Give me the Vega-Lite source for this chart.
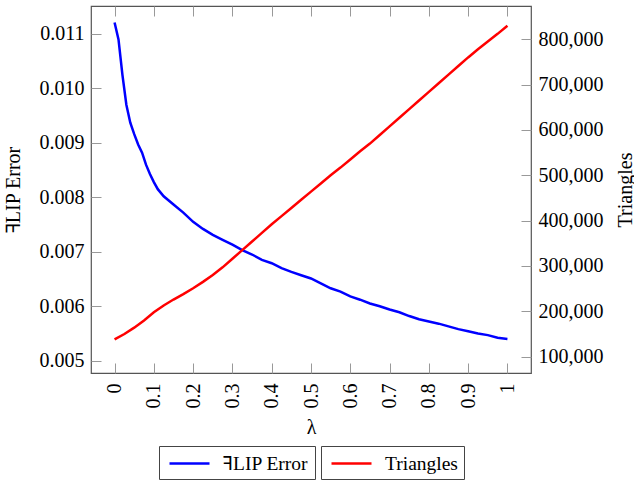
{
  "$schema": "https://vega.github.io/schema/vega-lite/v6.json",
  "width": 440,
  "height": 367,
  "autosize": {"type": "none"},
  "padding": {"left": 91, "top": 6, "right": 103, "bottom": 109},
  "background": "white",
  "config": {
    "font": "Liberation Serif",
    "view": {"stroke": "#555555", "strokeWidth": 1.2},
    "axis": {
      "domain": false,
      "grid": false,
      "tickColor": "#999999",
      "tickSize": -10,
      "tickWidth": 1,
      "labelFont": "Liberation Serif",
      "labelFontSize": 20,
      "labelColor": "black",
      "titleFont": "Liberation Serif",
      "titleFontSize": 20,
      "titleFontWeight": "normal",
      "titleColor": "black"
    },
    "legend": {
      "orient": "bottom",
      "direction": "horizontal",
      "symbolType": "M-2,0H2",
      "symbolSize": 400,
      "symbolOffset": 13,
      "symbolStrokeWidth": 2.5,
      "labelFont": "Liberation Serif",
      "labelFontSize": 19.5,
      "labelColor": "black",
      "labelLimit": 300,
      "labelOffset": 22,
      "strokeColor": "#444444",
      "padding": 6,
      "offset": 9,
      "layout": {"bottom": {"anchor": "middle", "margin": 6}}
    }
  },
  "datasets": {
    "flip": [
      {"lambda": 0, "flip": 0.01121},
      {"lambda": 0.01, "flip": 0.0109},
      {"lambda": 0.02, "flip": 0.01025},
      {"lambda": 0.03, "flip": 0.0097},
      {"lambda": 0.04, "flip": 0.00937},
      {"lambda": 0.05, "flip": 0.00916},
      {"lambda": 0.06, "flip": 0.00897},
      {"lambda": 0.07, "flip": 0.00882},
      {"lambda": 0.08, "flip": 0.0086},
      {"lambda": 0.09, "flip": 0.00843},
      {"lambda": 0.1, "flip": 0.00828},
      {"lambda": 0.11, "flip": 0.00815},
      {"lambda": 0.125, "flip": 0.00802},
      {"lambda": 0.15, "flip": 0.00787},
      {"lambda": 0.175, "flip": 0.00772},
      {"lambda": 0.2, "flip": 0.00755},
      {"lambda": 0.225, "flip": 0.00742},
      {"lambda": 0.25, "flip": 0.00731},
      {"lambda": 0.275, "flip": 0.00722},
      {"lambda": 0.3, "flip": 0.00713},
      {"lambda": 0.325, "flip": 0.00703},
      {"lambda": 0.35, "flip": 0.00695},
      {"lambda": 0.375, "flip": 0.00685},
      {"lambda": 0.4, "flip": 0.00679},
      {"lambda": 0.425, "flip": 0.0067},
      {"lambda": 0.45, "flip": 0.00663},
      {"lambda": 0.475, "flip": 0.00657},
      {"lambda": 0.5, "flip": 0.00651},
      {"lambda": 0.525, "flip": 0.00642},
      {"lambda": 0.55, "flip": 0.00633},
      {"lambda": 0.575, "flip": 0.00627},
      {"lambda": 0.6, "flip": 0.00618},
      {"lambda": 0.625, "flip": 0.00612},
      {"lambda": 0.65, "flip": 0.00605},
      {"lambda": 0.675, "flip": 0.006},
      {"lambda": 0.7, "flip": 0.00594},
      {"lambda": 0.725, "flip": 0.00589},
      {"lambda": 0.75, "flip": 0.00582},
      {"lambda": 0.775, "flip": 0.00576},
      {"lambda": 0.8, "flip": 0.00572},
      {"lambda": 0.825, "flip": 0.00568},
      {"lambda": 0.85, "flip": 0.00563},
      {"lambda": 0.875, "flip": 0.00558},
      {"lambda": 0.9, "flip": 0.00554},
      {"lambda": 0.925, "flip": 0.0055},
      {"lambda": 0.95, "flip": 0.00547},
      {"lambda": 0.975, "flip": 0.00542},
      {"lambda": 1, "flip": 0.0054}
    ],
    "tri": [
      {"lambda": 0, "tri": 138000},
      {"lambda": 0.025, "tri": 150000},
      {"lambda": 0.05, "tri": 164000},
      {"lambda": 0.075, "tri": 180000},
      {"lambda": 0.1, "tri": 198000},
      {"lambda": 0.125, "tri": 213000},
      {"lambda": 0.15, "tri": 226000},
      {"lambda": 0.175, "tri": 238000},
      {"lambda": 0.2, "tri": 251000},
      {"lambda": 0.225, "tri": 265000},
      {"lambda": 0.25, "tri": 280000},
      {"lambda": 0.275, "tri": 297000},
      {"lambda": 0.3, "tri": 316000},
      {"lambda": 0.325, "tri": 335000},
      {"lambda": 0.35, "tri": 354000},
      {"lambda": 0.375, "tri": 373000},
      {"lambda": 0.4, "tri": 392000},
      {"lambda": 0.425, "tri": 410000},
      {"lambda": 0.45, "tri": 428000},
      {"lambda": 0.475, "tri": 446000},
      {"lambda": 0.5, "tri": 464000},
      {"lambda": 0.525, "tri": 482000},
      {"lambda": 0.55, "tri": 500000},
      {"lambda": 0.575, "tri": 517000},
      {"lambda": 0.6, "tri": 535000},
      {"lambda": 0.625, "tri": 553000},
      {"lambda": 0.65, "tri": 570000},
      {"lambda": 0.675, "tri": 589000},
      {"lambda": 0.7, "tri": 608000},
      {"lambda": 0.725, "tri": 627000},
      {"lambda": 0.75, "tri": 646000},
      {"lambda": 0.775, "tri": 665000},
      {"lambda": 0.8, "tri": 684000},
      {"lambda": 0.825, "tri": 703000},
      {"lambda": 0.85, "tri": 722000},
      {"lambda": 0.875, "tri": 741000},
      {"lambda": 0.9, "tri": 760000},
      {"lambda": 0.925, "tri": 778000},
      {"lambda": 0.95, "tri": 795000},
      {"lambda": 0.975, "tri": 812000},
      {"lambda": 1, "tri": 830000}
    ]
  },
  "layer": [
    {
      "data": {"name": "flip"},
      "mark": {"type": "line", "strokeWidth": 2.5, "clip": true},
      "encoding": {
        "x": {
          "field": "lambda",
          "type": "quantitative",
          "scale": {"domain": [-0.06, 1.06], "nice": false, "zero": false},
          "axis": {
            "orient": "bottom",
            "title": "λ",
            "values": [0, 0.1, 0.2, 0.3, 0.4, 0.5, 0.6, 0.7, 0.8, 0.9, 1],
            "format": "~g",
            "labelAngle": -90,
            "labelAlign": "right",
            "labelBaseline": "middle",
            "labelPadding": 20,
            "titlePadding": 9
          }
        },
        "y": {
          "field": "flip",
          "type": "quantitative",
          "scale": {"domain": [0.004774, 0.011514], "nice": false, "zero": false},
          "axis": {
            "orient": "left",
            "title": "ꟻLIP Error",
            "values": [0.005, 0.006, 0.007, 0.008, 0.009, 0.01, 0.011],
            "format": ".3f",
            "labelPadding": 17,
            "titlePadding": 16
          }
        },
        "color": {
          "datum": "ꟻLIP Error",
          "scale": {"domain": ["ꟻLIP Error"], "range": ["#0000ff"]},
          "legend": {"title": null}
        }
      }
    },
    {
      "data": {"name": "tri"},
      "mark": {"type": "line", "strokeWidth": 2.5, "clip": true},
      "encoding": {
        "x": {
          "field": "lambda",
          "type": "quantitative",
          "axis": {
            "orient": "top",
            "labels": false,
            "title": null,
            "values": [0, 0.1, 0.2, 0.3, 0.4, 0.5, 0.6, 0.7, 0.8, 0.9, 1]
          }
        },
        "y": {
          "field": "tri",
          "type": "quantitative",
          "scale": {"domain": [64000, 873400], "nice": false, "zero": false},
          "axis": {
            "orient": "right",
            "title": "Triangles",
            "titleAngle": -90,
            "titleBaseline": "top",
            "values": [100000, 200000, 300000, 400000, 500000, 600000, 700000, 800000],
            "format": ",d",
            "labelPadding": 17,
            "titlePadding": 12
          }
        },
        "color": {
          "datum": "Triangles",
          "scale": {"domain": ["Triangles"], "range": ["#ff0000"]},
          "legend": {"title": null}
        }
      }
    }
  ],
  "resolve": {"scale": {"y": "independent", "color": "independent"}}
}
